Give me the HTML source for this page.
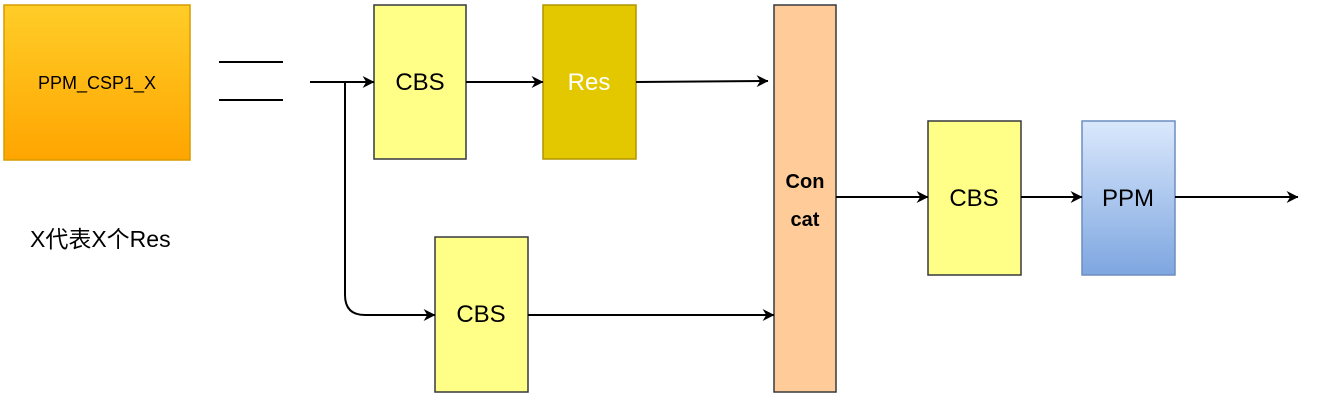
<!DOCTYPE html>
<html><head><meta charset="utf-8"><style>
body{margin:0;background:#fff;}
svg text{font-family:"Liberation Sans","Noto Sans CJK SC",sans-serif;}
</style></head><body>
<svg width="1322" height="404" viewBox="0 0 1322 404" xmlns="http://www.w3.org/2000/svg">
<defs>
<linearGradient id="go" x1="0" y1="0" x2="0" y2="1"><stop offset="0" stop-color="#ffcd28"/><stop offset="1" stop-color="#ffa500"/></linearGradient>
<linearGradient id="gb" x1="0" y1="0" x2="0" y2="1"><stop offset="0" stop-color="#dae8fc"/><stop offset="1" stop-color="#7ea6e0"/></linearGradient>
<marker id="a" viewBox="0 0 20 20" refX="19" refY="10" markerWidth="12" markerHeight="12" markerUnits="userSpaceOnUse" orient="auto"><path d="M0,0 L20,10 L0,20 L6,10 Z" fill="#000"/></marker>
</defs>
<rect x="4" y="5" width="186" height="155" fill="url(#go)" stroke="#d79b00" stroke-width="1.5"/>
<text x="97" y="89" font-size="18" text-anchor="middle">PPM_CSP1_X</text>
<line x1="219" y1="62" x2="283" y2="62" stroke="#000" stroke-width="2"/>
<line x1="219" y1="100" x2="283" y2="100" stroke="#000" stroke-width="2"/>
<text x="30" y="247" font-size="23">X代表X个Res</text>
<rect x="374" y="5" width="92" height="154" fill="#ffff88" stroke="#36393d" stroke-width="1.5"/>
<text x="420" y="90" font-size="24" text-anchor="middle">CBS</text>
<rect x="543" y="5" width="93" height="154" fill="#e3c800" stroke="#b09500" stroke-width="1.5"/>
<text x="589" y="90" font-size="24" text-anchor="middle" fill="#fff">Res</text>
<rect x="774" y="5" width="62" height="387" fill="#ffcc99" stroke="#36393d" stroke-width="1.5"/>
<text x="805" y="188" font-size="20" font-weight="bold" text-anchor="middle">Con</text>
<text x="805" y="226" font-size="20" font-weight="bold" text-anchor="middle">cat</text>
<rect x="435" y="237" width="93" height="155" fill="#ffff88" stroke="#36393d" stroke-width="1.5"/>
<text x="481" y="322" font-size="24" text-anchor="middle">CBS</text>
<rect x="928" y="121" width="93" height="154" fill="#ffff88" stroke="#36393d" stroke-width="1.5"/>
<text x="974" y="206" font-size="24" text-anchor="middle">CBS</text>
<rect x="1082" y="121" width="93" height="154" fill="url(#gb)" stroke="#6c8ebf" stroke-width="1.5"/>
<text x="1128" y="206" font-size="24" text-anchor="middle">PPM</text>
<g stroke="#000" stroke-width="2" fill="none">
<line x1="310" y1="82" x2="374" y2="82" marker-end="url(#a)"/>
<path d="M345,82 L345,295 Q345,315 365,315 L435,315" marker-end="url(#a)"/>
<line x1="466" y1="82" x2="543" y2="82" marker-end="url(#a)"/>
<line x1="636" y1="82" x2="768" y2="81" marker-end="url(#a)"/>
<line x1="528" y1="315" x2="774" y2="315" marker-end="url(#a)"/>
<line x1="836" y1="197" x2="928" y2="197" marker-end="url(#a)"/>
<line x1="1021" y1="197" x2="1082" y2="197" marker-end="url(#a)"/>
<line x1="1175" y1="197" x2="1298" y2="197" marker-end="url(#a)"/>
</g>
</svg>
</body></html>
